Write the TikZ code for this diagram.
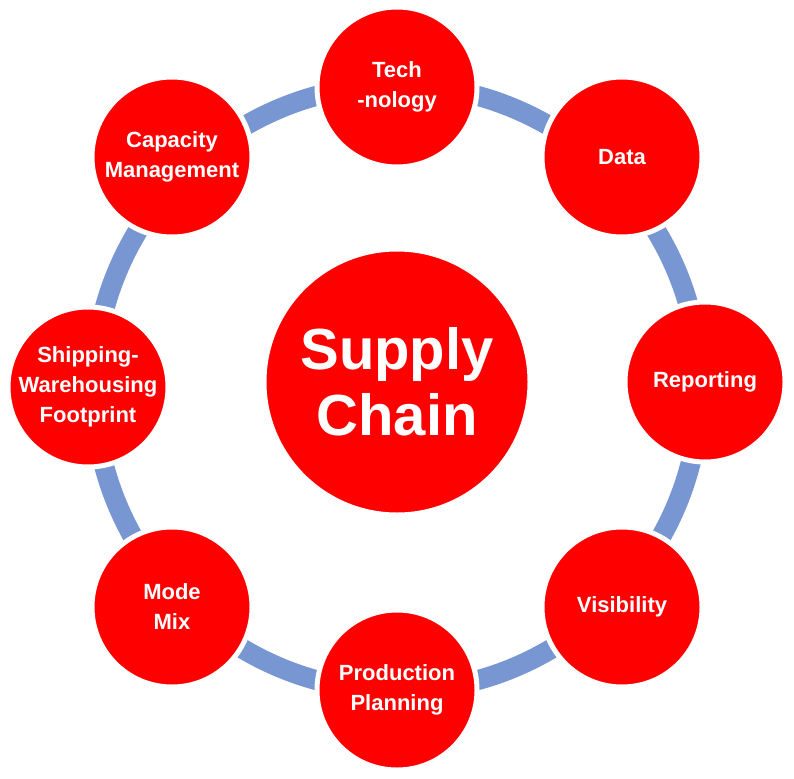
\documentclass[tikz,border=0pt]{standalone}
\usepackage{fontspec}
\setmainfont{Liberation Sans}
\begin{document}
\begin{tikzpicture}[x=1pt,y=-1pt,
  outer/.style={circle,fill=red,draw=white,line width=5pt,minimum size=160pt,inner sep=0pt,align=center,text=white,font=\bfseries\fontsize{22}{30}\selectfont},
  hub/.style={circle,fill=red,draw=white,line width=5pt,minimum size=266pt,inner sep=0pt,align=center,text=white,font=\bfseries\fontsize{58}{66}\selectfont}]
\useasboundingbox (0,0) rectangle (794,778);
\fill[white] (0,0) rectangle (794,778);
\draw[color={rgb,255:red,120;green,150;blue,210},line width=20pt] (397,388) circle[radius=303];
\node[hub] (c) at (397,382) {Supply\\Chain};
\node[outer] (t) at (397,87) {Tech\\-nology};
\node[outer] (d) at (622,157) {Data};
\node[outer] (r) at (705,382) {Reporting};
\node[outer] (v) at (622,607) {Visibility};
\node[outer] (p) at (397,690) {Production\\Planning};
\node[outer] (m) at (172,607) {Mode\\Mix};
\node[outer] (s) at (88,387) {Shipping-\\Warehousing\\Footprint};
\node[outer] (k) at (172,157) {Capacity\\Management};
\end{tikzpicture}
\end{document}
